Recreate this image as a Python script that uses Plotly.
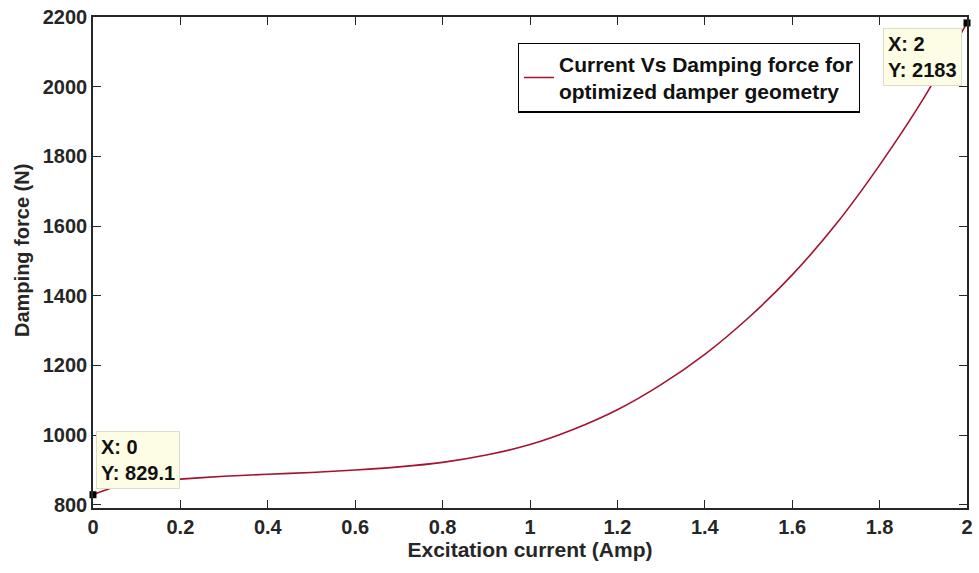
import plotly.graph_objects as go

# Excitation current (Amp) and resulting damping force (N)
current = [0.0, 0.05, 0.1, 0.2, 0.3, 0.4, 0.5, 0.6, 0.7, 0.8, 0.9, 1.0,
           1.1, 1.2, 1.3, 1.4, 1.5, 1.6, 1.7, 1.8, 1.9, 2.0]
force = [829.1, 851, 863, 874, 882, 888, 893, 900, 909, 922, 943, 973,
         1017, 1073, 1145, 1232, 1337, 1460, 1605, 1775, 1965, 2183]

x_ticks = [0, 0.2, 0.4, 0.6, 0.8, 1.0, 1.2, 1.4, 1.6, 1.8, 2.0]
x_labels = ["0", "0.2", "0.4", "0.6", "0.8", "1", "1.2", "1.4", "1.6", "1.8", "2"]
y_ticks = [800, 1000, 1200, 1400, 1600, 1800, 2000, 2200]

series_name = "Current Vs Damping force for<br>optimized damper geometry"
x_title = "Excitation current (Amp)"
y_title = "Damping force (N)"

line_color = "#A2142F"
axis_color = "#262626"
font_family = "Liberation Sans, Arial, sans-serif"

fig = go.Figure()
fig.add_trace(go.Scatter(
    x=current, y=force, mode="lines", name=series_name,
    line=dict(color=line_color, width=1.6, shape="spline", smoothing=0.8),
))

# Data tips at the two ends of the curve
tips = [(current[0], force[0]), (current[-1], force[-1])]
fig.add_trace(go.Scatter(
    x=[t[0] for t in tips], y=[t[1] for t in tips], mode="markers",
    marker=dict(symbol="square", size=7, color="black"),
    showlegend=False, cliponaxis=False, hoverinfo="skip",
))


def tip_text(x, y):
    return f"X: {x:g}<br>Y: {y:g}"


tip_style = dict(
    xref="x", yref="y", showarrow=False, align="left",
    bgcolor="#FDFDE6", bordercolor="#DCDCCA", borderwidth=1, borderpad=4,
    font=dict(size=20, color="#111111", family=font_family, weight="bold"),
)
fig.add_annotation(
    x=tips[0][0], y=tips[0][1], text=tip_text(*tips[0]),
    xanchor="left", yanchor="bottom", xshift=3, yshift=6, **tip_style,
)
fig.add_annotation(
    x=tips[1][0], y=tips[1][1], text=tip_text(*tips[1]),
    xanchor="right", yanchor="top", xshift=-5, yshift=-5, **tip_style,
)

# Y-axis title placed as a rotated label beside the tick labels
fig.add_annotation(
    text=y_title, xref="paper", yref="paper", x=-0.0815, y=0.525,
    xanchor="center", yanchor="middle", textangle=-90, showarrow=False,
    font=dict(size=20, color="#262626", family=font_family, weight="bold"),
)

axis_common = dict(
    showline=True, linecolor=axis_color, linewidth=1.5, mirror="ticks",
    ticks="inside", ticklen=8, tickwidth=1.3, tickcolor=axis_color,
    showgrid=False, zeroline=False,
    tickfont=dict(size=20, color="#262626", family=font_family, weight="bold"),
)

fig.update_layout(
    width=979, height=573,
    margin=dict(l=93, r=6, t=15, b=65),
    paper_bgcolor="white", plot_bgcolor="white",
    font=dict(family=font_family, color="#262626", weight="bold"),
    xaxis=dict(
        range=[0, 2], tickvals=x_ticks, ticktext=x_labels,
        title=dict(text=x_title, standoff=5,
                   font=dict(size=21, family=font_family, weight="bold")),
        **axis_common,
    ),
    yaxis=dict(range=[791, 2200], tickvals=y_ticks, **axis_common),
    legend=dict(
        x=0.486, y=0.948, xanchor="left", yanchor="top",
        bgcolor="white", bordercolor="black", borderwidth=1.2,
        font=dict(size=21, color="#111111", family=font_family, weight="bold"),
        itemwidth=30, tracegroupgap=0,
    ),
    showlegend=True,
)

fig.write_html("out.html")
